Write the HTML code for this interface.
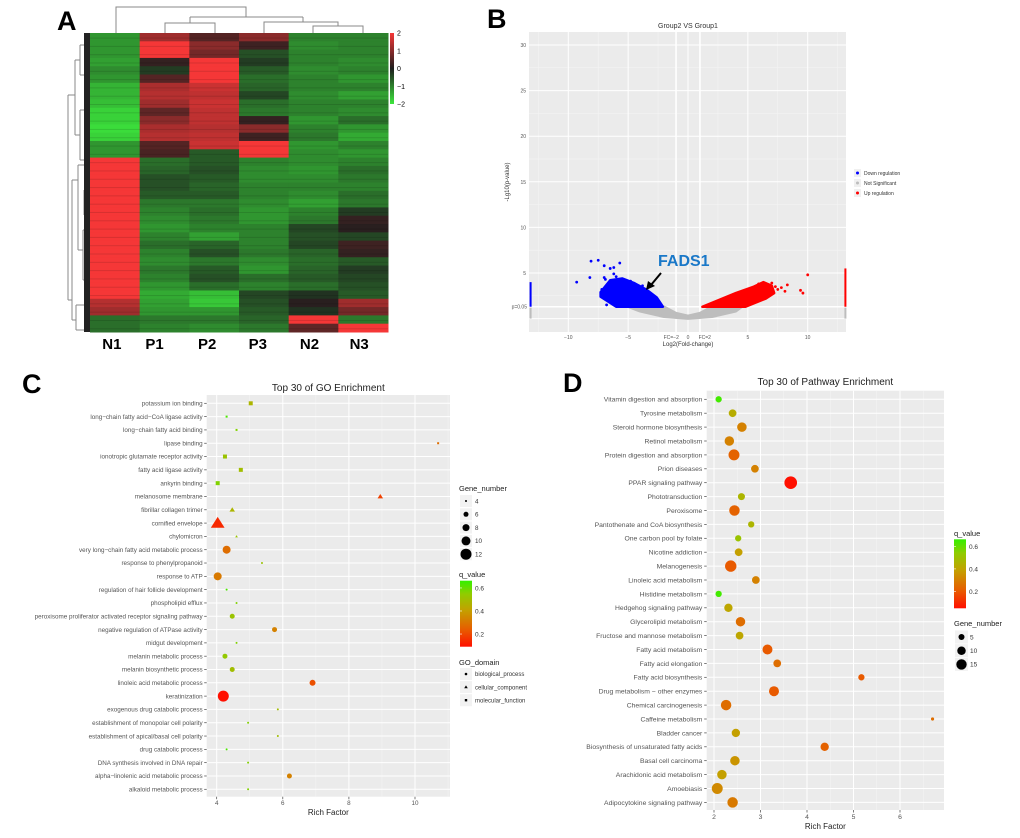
<!DOCTYPE html>
<html><head><meta charset="utf-8"><style>
html,body{margin:0;padding:0;background:#fff;}
svg{display:block;font-family:"Liberation Sans",Arial,sans-serif;}
</style></head><body>
<svg id="fig" width="1020" height="838" viewBox="0 0 1020 838" xmlns="http://www.w3.org/2000/svg">
<defs>
<linearGradient id="qgrad" x1="0" y1="1" x2="0" y2="0">
<stop offset="0" stop-color="#ff1000"/><stop offset="0.25" stop-color="#e85a00"/><stop offset="0.55" stop-color="#c4a000"/><stop offset="0.8" stop-color="#90cc00"/><stop offset="1" stop-color="#33f000"/>
</linearGradient>
<linearGradient id="hgrad" x1="0" y1="1" x2="0" y2="0">
<stop offset="0" stop-color="#3ce63c"/><stop offset="0.5" stop-color="#1e1e1e"/><stop offset="1" stop-color="#f53737"/>
</linearGradient>
</defs>
<g id="pA"></g>
<g id="pB"></g>
<g id="pC"></g>
<g id="pD"></g>
</svg>
<script>
// ---------- DATA ----------
const heatCols = ["N1","P1","P2","P3","N2","N3"];
const heatRows = [
[-1.2,1.2,0.5,1.0,-1.0,-1.0],[-1.2,2,1.0,0.3,-1.1,-1.0],[-1.2,2,0.8,-0.5,-1.0,-1.0],
[-1.3,0.2,2,-0.3,-1.0,-1.1],[-1.1,-0.3,2,-0.6,-1.1,-1.0],[-1.2,0.5,2,-0.8,-1.0,-1.2],
[-1.5,1.3,1.6,-0.7,-1.0,-1.0],[-1.5,1.4,1.5,-0.4,-1.1,-1.3],[-1.6,1.2,1.6,-0.8,-1.0,-1.0],
[-1.8,0.6,1.5,-0.9,-1.0,-1.1],[-1.8,1.0,1.5,0.2,-1.2,-0.8],[-1.9,1.3,1.4,1.0,-1.0,-1.2],
[-1.8,1.4,1.5,0.3,-0.9,-1.4],[-1.2,0.5,1.6,2,-1.2,-1.0],[-1.2,0.4,-0.6,2,-1.1,-1.2],
[2,-0.8,-0.6,-1.0,-1.1,-1.0],[2,-0.7,-0.5,-1.1,-1.2,-0.8],[2,-0.5,-0.6,-1.1,-1.1,-0.9],
[2,-0.5,-0.7,-1.0,-1.0,-1.0],[2,-0.6,-0.6,-1.0,-1.1,-0.8],[2,-0.9,-0.9,-1.1,-1.3,-0.9],
[2,-1.0,-0.8,-1.2,-1.0,-0.3],[2,-1.1,-0.9,-1.2,-0.9,0.2],[2,-1.2,-1.0,-1.0,-0.4,0.1],
[2,-1.0,-1.3,-1.0,-0.5,-0.4],[2,-0.8,-0.7,-1.0,-0.4,0.3],[2,-1.0,-0.5,-0.9,-0.7,0.2],
[2,-1.1,-0.9,-1.1,-0.8,-0.6],[2,-0.9,-0.6,-1.2,-0.7,-0.3],[2,-1.0,-0.5,-0.8,-0.6,-0.4],
[2,-1.2,-0.8,-1.0,-0.8,-0.5],[2,-1.4,-1.6,-0.4,-0.2,-0.6],[1.4,-1.3,-1.7,-0.5,0.1,1.2],
[1.2,-1.2,-1.2,-0.6,-0.2,0.8],[-0.8,-0.9,-0.9,-0.7,2,-0.9],[-0.8,-1.0,-1.1,-0.9,0.6,2]
];
const heatTicks = [2,1,0,-1,-2];

const volDownX = [-9.3,-8.1,-7.5,-7.0,-6.5,-6.2,-5.7,-8.2,-7.0,-6.8,-6.0,-5.6,-7.2,-6.5,-5.4,-4.8,-4.5,-3.8,-3.5,-6.9,-6.2];
const volDownY = [4.0,6.3,6.4,5.8,5.5,5.6,6.1,4.5,4.5,1.5,4.6,4.2,3.2,3.5,3.8,4.1,3.4,3.6,3.2,4.3,4.9];
const volUpX = [10.0,9.4,9.6,8.3,7.8,7.5,7.0,6.5,6.9,5.4,6.2,8.1,7.3,5.9];
const volUpY = [4.8,3.1,2.8,3.7,3.4,3.2,3.9,3.5,2.6,2.1,2.7,3.0,3.5,3.8];
const volDownRegionX = [-7.3,-6.5,-5.5,-4.5,-3.5,-2.6,-2.1,-6.0,-7.3];
const volDownRegionY = [2.9,4.2,4.4,3.9,3.2,2.3,1.3,1.3,2.4];
const volUpRegionX = [1.2,2.5,4.0,5.5,6.3,7.0,7.2,6.5,4.8];
const volUpRegionY = [1.3,2.0,2.8,3.5,4.0,3.6,2.8,2.2,1.3];
const volNsRegionX = [-5,-2,-1,0,1,2,4.5,4,2,0,-2,-4];
const volNsRegionY = [1.3,1.3,0.6,0.3,0.6,1.3,1.3,0.8,0.2,0,0.2,0.8];
const volYTicks = [30,25,20,15,10,5];
const volXTicks = [-10,-5,5,10];

const goTerms = ["potassium ion binding","long\u2212chain fatty acid\u2212CoA ligase activity","long\u2212chain fatty acid binding","lipase binding","ionotropic glutamate receptor activity","fatty acid ligase activity","ankyrin binding","melanosome membrane","fibrillar collagen trimer","cornified envelope","chylomicron","very long\u2212chain fatty acid metabolic process","response to phenylpropanoid","response to ATP","regulation of hair follicle development","phospholipid efflux","peroxisome proliferator activated receptor signaling pathway","negative regulation of ATPase activity","midgut development","melanin metabolic process","melanin biosynthetic process","linoleic acid metabolic process","keratinization","exogenous drug catabolic process","establishment of monopolar cell polarity","establishment of apical/basal cell polarity","drug catabolic process","DNA synthesis involved in DNA repair","alpha\u2212linolenic acid metabolic process","alkaloid metabolic process"];
const goRich = [5.03,4.3,4.6,10.7,4.25,4.73,4.03,8.95,4.47,4.03,4.6,4.3,5.37,4.03,4.3,4.6,4.47,5.75,4.6,4.25,4.47,6.9,4.2,5.85,4.95,5.85,4.3,4.95,6.2,4.95];
const goQ = [0.45,0.62,0.55,0.25,0.5,0.48,0.55,0.15,0.45,0.1,0.5,0.25,0.5,0.28,0.62,0.55,0.5,0.3,0.55,0.52,0.48,0.18,0.05,0.48,0.55,0.48,0.62,0.55,0.3,0.55];
const goGenes = [6,4,4,4,6,6,6,6,6,12,4,10,4,10,4,4,7,7,4,7,7,8,13,4,4,4,4,4,7,4];
const goDomain = ["MF","MF","MF","MF","MF","MF","MF","CC","CC","CC","CC","BP","BP","BP","BP","BP","BP","BP","BP","BP","BP","BP","BP","BP","BP","BP","BP","BP","BP","BP"];
const goXTicks = [4,6,8,10];

const pwTerms = ["Vitamin digestion and absorption","Tyrosine metabolism","Steroid hormone biosynthesis","Retinol metabolism","Protein digestion and absorption","Prion diseases","PPAR signaling pathway","Phototransduction","Peroxisome","Pantothenate and CoA biosynthesis","One carbon pool by folate","Nicotine addiction","Melanogenesis","Linoleic acid metabolism","Histidine metabolism","Hedgehog signaling pathway","Glycerolipid metabolism","Fructose and mannose metabolism","Fatty acid metabolism","Fatty acid elongation","Fatty acid biosynthesis","Drug metabolism \u2212 other enzymes","Chemical carcinogenesis","Caffeine metabolism","Bladder cancer","Biosynthesis of unsaturated fatty acids","Basal cell carcinoma","Arachidonic acid metabolism","Amoebiasis","Adipocytokine signaling pathway"];
const pwRich = [2.1,2.4,2.6,2.33,2.43,2.88,3.65,2.59,2.44,2.8,2.52,2.53,2.36,2.9,2.1,2.31,2.57,2.55,3.15,3.36,5.17,3.29,2.26,6.7,2.47,4.38,2.45,2.17,2.07,2.4];
const pwQ = [0.63,0.42,0.3,0.3,0.22,0.3,0.05,0.45,0.22,0.45,0.5,0.38,0.2,0.3,0.63,0.4,0.25,0.4,0.2,0.25,0.2,0.2,0.25,0.25,0.38,0.22,0.35,0.38,0.32,0.28];
const pwGenes = [4,6,9,9,12,6,16,5,11,4,4,6,13,6,4,7,9,6,10,6,4,10,11,1,7,7,9,9,12,11];
const pwXTicks = [2,3,4,5,6];

// ---------- HELPERS ----------
const NS = "http://www.w3.org/2000/svg";
function mk(tag, attrs, parent, txt){
  const e = document.createElementNS(NS, tag);
  for (const k in attrs) e.setAttribute(k, attrs[k]);
  if (txt !== undefined) e.textContent = txt;
  parent.appendChild(e);
  return e;
}
function lerp(a,b,t){return a+(b-a)*t;}
function hex(c){return '#'+c.map(v=>Math.round(v).toString(16).padStart(2,'0')).join('');}
function heatColor(v){
  const t = Math.min(1, Math.abs(v)/2);
  const base=[30,30,30], g=[60,230,60], r=[245,55,55];
  const tgt = v<0?g:r;
  return hex(base.map((b,i)=>lerp(b,tgt[i],t)));
}
const qStops=[[0,[255,16,0]],[0.25,[232,90,0]],[0.55,[196,160,0]],[0.8,[144,204,0]],[1,[51,240,0]]];
function qColor(q){
  let t=(q-0.05)/(0.65-0.05); t=Math.max(0,Math.min(1,t));
  for(let i=1;i<qStops.length;i++){
    if(t<=qStops[i][0]){const a=qStops[i-1],b=qStops[i];const u=(t-a[0])/(b[0]-a[0]);return hex(a[1].map((v,j)=>lerp(v,b[1][j],u)));}
  }
  return hex(qStops[qStops.length-1][1]);
}

// ---------- PANEL A ----------
(function(){
  const g = document.getElementById('pA');
  const lab = mk('text',{x:57,y:30,'font-size':27,'font-weight':'bold'},g,'A');
  
  
  const x0=90,x1=388,y0=33,y1=332;
  const cw=(x1-x0)/heatCols.length, rh=(y1-y0)/heatRows.length;
  const cells = mk('g',{},g);
  
  
  heatRows.forEach((row,i)=>{
    row.forEach((v,j)=>{
      const r = mk('rect',{x:x0+j*cw,y:y0+i*rh,width:cw+0.5,height:rh+0.5,fill:heatColor(v)},cells);
      
      
    });
    // thin striation
    const s = mk('rect',{x:x0,y:y0+i*rh+rh*0.55,width:x1-x0,height:1,fill:'#000',opacity:0.12},cells);
    
    
  });
  heatCols.forEach((c,j)=>{
    const t = mk('text',{x:x0+j*cw+cw/2+(j===0?-3:j===1?-10:j===2?-7:j===3?-6:-4),y:349,'font-size':15,'font-weight':'bold','text-anchor':'middle'},g,c);
    
    
  });
  // top dendrogram
  const td = mk('path',{d:'M116,33V7H246V17 M190,17H303 M190,17V23 M165,33V23H215V33 M303,17V22 M264,33V22H338V26 M313,33V26H363V33',fill:'none',stroke:'#888','stroke-width':1},g);
  
  
  // left dendrogram
  let d='M68,95V300 M68,95H75 M68,300H72 M75,60V135 M75,60H80 M75,135H80 M72,180V320 M72,180H78 M72,320H76 M80,45V75 M80,45H86 M80,75H86 M80,110V160 M80,110H86 M80,160H86 M78,165V250 M78,165H84 M78,250H83 M83,230V280 M83,230H88 M83,280H88 M76,305V330 M76,305H85 M76,330H85 M84,190V215 M84,190H89 M84,215H89';
  const ld = mk('path',{d:d,fill:'none',stroke:'#888','stroke-width':1},g);
  
  
  const tk = mk('rect',{x:84,y:y0,width:6,height:y1-y0,fill:'#222'},g);
  
  
  // colorbar
  const cb = mk('rect',{x:390,y:33,width:4,height:71,fill:'url(#hgrad)'},g);
  
  
  heatTicks.forEach(v=>{
    const y = 33 + (2-v)/4*71;
    const t = mk('text',{x:397,y:y+2.5,'font-size':7},g,v<0?'\u2212'+Math.abs(v):String(v));
    
    
  });
})();

// ---------- PANEL B ----------
(function(){
  const g = document.getElementById('pB');
  const lab = mk('text',{x:487,y:28,'font-size':27,'font-weight':'bold'},g,'B');
  
  
  const px0=529,px1=846,py0=32,py1=332;
  const X = v=>688+v*11.97, Y = v=>318.6-v*9.12;
  const bg = mk('rect',{x:px0,y:py0,width:px1-px0,height:py1-py0,fill:'#ebebeb'},g);
  
  
  for(let v=-12.5; v<=12.5; v+=5){ const l=mk('line',{x1:X(v),x2:X(v),y1:py0,y2:py1,stroke:'#f5f5f5','stroke-width':0.5},g);   }
  for(let v=2.5; v<=30; v+=5){ const l=mk('line',{x1:px0,x2:px1,y1:Y(v),y2:Y(v),stroke:'#f5f5f5','stroke-width':0.5},g);   }
  [-10,-5,0,5,10].forEach(v=>{ const l=mk('line',{x1:X(v),x2:X(v),y1:py0,y2:py1,stroke:'#fff','stroke-width':1},g);   });
  [0,5,10,15,20,25,30].forEach(v=>{ const l=mk('line',{x1:px0,x2:px1,y1:Y(v),y2:Y(v),stroke:'#fff','stroke-width':1},g);   });
  [-1,1].forEach(v=>{ const l=mk('line',{x1:X(v),x2:X(v),y1:py0,y2:py1,stroke:'#fff','stroke-width':1.6},g);   });
  const pl=mk('line',{x1:px0,x2:px1,y1:Y(1.3),y2:Y(1.3),stroke:'#fff','stroke-width':1.6},g);
  
  
  function poly(xs,ys,col,name){
    const pts = xs.map((x,i)=>X(x)+','+Y(ys[i])).join(' ');
    const p = mk('polygon',{points:pts,fill:col,stroke:col,'stroke-width':2.5,'stroke-linejoin':'round'},g);
    
    
  }
  poly(volNsRegionX,volNsRegionY,'#bdbdbd','not-significant-cloud');
  poly(volDownRegionX,volDownRegionY,'#0000ff','down-regulation-cloud');
  poly(volUpRegionX,volUpRegionY,'#ff0000','up-regulation-cloud');
  const e1=mk('line',{x1:X(-13.15),x2:X(-13.15),y1:Y(1.3),y2:Y(4.0),stroke:'#0000ff','stroke-width':2},g);  
  const e2=mk('line',{x1:X(13.15),x2:X(13.15),y1:Y(1.3),y2:Y(5.5),stroke:'#ff0000','stroke-width':2},g);  
  const e3=mk('line',{x1:X(-13.15),x2:X(-13.15),y1:Y(0),y2:Y(1.2),stroke:'#bdbdbd','stroke-width':2},g);  
  const e4=mk('line',{x1:X(13.15),x2:X(13.15),y1:Y(0),y2:Y(1.2),stroke:'#bdbdbd','stroke-width':2},g);  
  volDownX.forEach((x,i)=>{ const c=mk('circle',{cx:X(x),cy:Y(volDownY[i]),r:1.4,fill:'#0000ff'},g);   });
  volUpX.forEach((x,i)=>{ const c=mk('circle',{cx:X(x),cy:Y(volUpY[i]),r:1.4,fill:'#ff0000'},g);   });
  volYTicks.forEach(v=>{ const t=mk('text',{x:px0-3,y:Y(v)+2,'font-size':5,fill:'#555','text-anchor':'end'},g,String(v));   });
  const pt=mk('text',{x:px0-2,y:Y(1.3)+2,'font-size':5,fill:'#555','text-anchor':'end'},g,'p=0.05');  
  volXTicks.forEach(v=>{ const t=mk('text',{x:X(v),y:339,'font-size':5,fill:'#555','text-anchor':'middle'},g,v<0?'\u2212'+Math.abs(v):String(v));   });
  [['FC=\u22122',-1.4],['0',0],['FC=2',1.4]].forEach(a=>{ const t=mk('text',{x:X(a[1]),y:339,'font-size':5,fill:'#555','text-anchor':'middle'},g,a[0]);   });
  const tt=mk('text',{x:688,y:28,'font-size':7,fill:'#333','text-anchor':'middle'},g,'Group2 VS Group1');  
  const xt=mk('text',{x:688,y:346,'font-size':6,fill:'#333','text-anchor':'middle'},g,'Log2(Fold-change)');  
  const yt=mk('text',{x:0,y:0,'font-size':6,fill:'#333','text-anchor':'middle',transform:'translate(509,182) rotate(-90)'},g,'-Lg10(p-value)');  
  [['Down regulation','#0000ff'],['Not Significant','#bdbdbd'],['Up regulation','#ff0000']].forEach((a,i)=>{
    const k=mk('rect',{x:854,y:169+i*10,width:7,height:8,fill:'#f0f0f0'},g);  
    const c=mk('circle',{cx:857.5,cy:173+i*10,r:1.5,fill:a[1]},g);  
    const t=mk('text',{x:864,y:175+i*10,'font-size':5,fill:'#333'},g,a[0]);  
  });
  const fl=mk('text',{x:658,y:266,'font-size':16,'font-weight':'bold',fill:'#1a78c8'},g,'FADS1');  
  const ar=mk('path',{d:'M661,273 L651,285',stroke:'#000','stroke-width':2,fill:'none'},g);  
  const ah=mk('polygon',{points:'646,290 648,281 655,286',fill:'#000'},g);  
})();

// ---------- DOT PLOT ----------
function dotPlot(g, cfg){
  const {px0,px1,py0,py1,x,rowY,terms,rich,q,genes,rfun,domain,ticks,labelEnd,fs,title,titleY,tickY,xTitleY,minor} = cfg;
  const bg=mk('rect',{x:px0,y:py0,width:px1-px0,height:py1-py0,fill:'#ebebeb'},g);  
  minor.forEach(v=>{ const l=mk('line',{x1:x(v),x2:x(v),y1:py0,y2:py1,stroke:'#f5f5f5','stroke-width':0.5},g);   });
  ticks.forEach(v=>{ const l=mk('line',{x1:x(v),x2:x(v),y1:py0,y2:py1,stroke:'#fff','stroke-width':1},g);   });
  terms.forEach((t,i)=>{
    const y=rowY(i);
    const l=mk('line',{x1:px0,x2:px1,y1:y,y2:y,stroke:'#fff','stroke-width':1},g);  
    const tk=mk('line',{x1:px0-2.5,x2:px0,y1:y,y2:y,stroke:'#444','stroke-width':0.7},g);  
    const tx=mk('text',{x:labelEnd,y:y+fs*0.35,'font-size':fs,fill:'#555','text-anchor':'end'},g,t);  
  });
  terms.forEach((t,i)=>{
    const cx=x(rich[i]), cy=rowY(i), r=rfun(genes[i]), col=qColor(q[i]);
    const dm = domain?domain[i]:'BP';
    let m;
    if(dm==='MF'){ m=mk('rect',{x:cx-r,y:cy-r,width:2*r,height:2*r,fill:col},g); }
    else if(dm==='CC'){ const h=r*1.25; m=mk('polygon',{points:`${cx},${cy-h} ${cx+h*1.1},${cy+h*0.75} ${cx-h*1.1},${cy+h*0.75}`,fill:col},g); }
    else { m=mk('circle',{cx:cx,cy:cy,r:r,fill:col},g); }
    
    
  });
  ticks.forEach(v=>{
    const tk=mk('line',{x1:x(v),x2:x(v),y1:py1,y2:py1+2.5,stroke:'#444','stroke-width':0.7},g);  
    const t=mk('text',{x:x(v),y:tickY,'font-size':fs,fill:'#555','text-anchor':'middle'},g,String(v));  
  });
  const tt=mk('text',{x:(px0+px1)/2,y:titleY,'font-size':10,fill:'#222','text-anchor':'middle'},g,title);  
  const xt=mk('text',{x:(px0+px1)/2,y:xTitleY,'font-size':8,fill:'#222','text-anchor':'middle'},g,'Rich Factor');  
}
function qBar(g,x,yTop,yBot,qTop,qBot,labels){
  const b=mk('rect',{x:x,y:yTop,width:12,height:yBot-yTop,fill:'url(#qgrad)'},g);  
  labels.forEach(v=>{
    const y=yTop+(qTop-v)/(qTop-qBot)*(yBot-yTop);
    const t=mk('text',{x:x+15,y:y+2.5,'font-size':6.5,fill:'#333'},g,v.toFixed(1));  
    const l1=mk('line',{x1:x,x2:x+2,y1:y,y2:y,stroke:'#fff','stroke-width':0.6},g);  
  });
}

// ---------- PANEL C ----------
(function(){
  const g=document.getElementById('pC');
  const lab=mk('text',{x:22,y:393,'font-size':27,'font-weight':'bold'},g,'C');  
  const rfun = n=>1+(n-4)*0.5;
  dotPlot(g,{px0:206.7,px1:450,py0:395,py1:796.7,x:v=>216.7+(v-4)*33.05,rowY:i=>403.3+i*13.31,terms:goTerms,rich:goRich,q:goQ,genes:goGenes,rfun:rfun,domain:goDomain,ticks:goXTicks,minor:[5,7,9,11],labelEnd:202.7,fs:6.3,title:'Top 30 of GO Enrichment',titleY:391,tickY:805,xTitleY:815});
  const gt=mk('text',{x:459,y:491,'font-size':7.5,fill:'#222'},g,'Gene_number');  
  [4,6,8,10,12].forEach((n,i)=>{
    const y=501+i*13.3;
    const k=mk('rect',{x:460,y:y-6,width:12,height:12,fill:'#f2f2f2'},g);  
    const c=mk('circle',{cx:466,cy:y,r:rfun(n)+(n>4?0.5:0),fill:'#000'},g);  
    const t=mk('text',{x:475,y:y+2.3,'font-size':6.3,fill:'#333'},g,String(n));  
  });
  const qt=mk('text',{x:459,y:577,'font-size':7.5,fill:'#222'},g,'q_value');  
  qBar(g,460,580.7,646.7,0.663,0.09,[0.6,0.4,0.2]);
  const dt=mk('text',{x:459,y:665,'font-size':7.5,fill:'#222'},g,'GO_domain');  
  ['biological_process','cellular_component','molecular_function'].forEach((s,i)=>{
    const y=674+i*13.1;
    const k=mk('rect',{x:460,y:y-6,width:12,height:12,fill:'#f2f2f2'},g);  
    let m;
    if(i===0) m=mk('circle',{cx:466,cy:y,r:1.3,fill:'#000'},g);
    else if(i===1) m=mk('polygon',{points:`466,${y-1.7} 467.8,${y+1.2} 464.2,${y+1.2}`,fill:'#000'},g);
    else m=mk('rect',{x:464.8,y:y-1.2,width:2.4,height:2.4,fill:'#000'},g);
     
    const t=mk('text',{x:475,y:y+2.2,'font-size':6,fill:'#333'},g,s);  
  });
})();

// ---------- PANEL D ----------
(function(){
  const g=document.getElementById('pD');
  const lab=mk('text',{x:563,y:392,'font-size':27,'font-weight':'bold'},g,'D');  
  const rfun = n=>1.58*Math.sqrt(n);
  dotPlot(g,{px0:706.7,px1:944,py0:390.7,py1:810,x:v=>714+(v-2)*46.5,rowY:i=>399.3+i*13.9,terms:pwTerms,rich:pwRich,q:pwQ,genes:pwGenes,rfun:rfun,domain:null,ticks:pwXTicks,minor:[2.5,3.5,4.5,5.5,6.5],labelEnd:702.3,fs:6.8,title:'Top 30 of Pathway Enrichment',titleY:385,tickY:819,xTitleY:829});
  const qt=mk('text',{x:954,y:536,'font-size':7.5,fill:'#222'},g,'q_value');  
  qBar(g,954,539.3,608.3,0.663,0.05,[0.6,0.4,0.2]);
  const gt=mk('text',{x:954,y:626,'font-size':7.5,fill:'#222'},g,'Gene_number');  
  [5,10,15].forEach((n,i)=>{
    const y=637+i*13.7;
    const k=mk('rect',{x:955,y:y-6.5,width:13,height:13,fill:'#f2f2f2'},g);  
    const c=mk('circle',{cx:961.5,cy:y,r:rfun(n)*0.85,fill:'#000'},g);  
    const t=mk('text',{x:970,y:y+2.3,'font-size':6.5,fill:'#333'},g,String(n));  
  });
})();
</script>
</body></html>
